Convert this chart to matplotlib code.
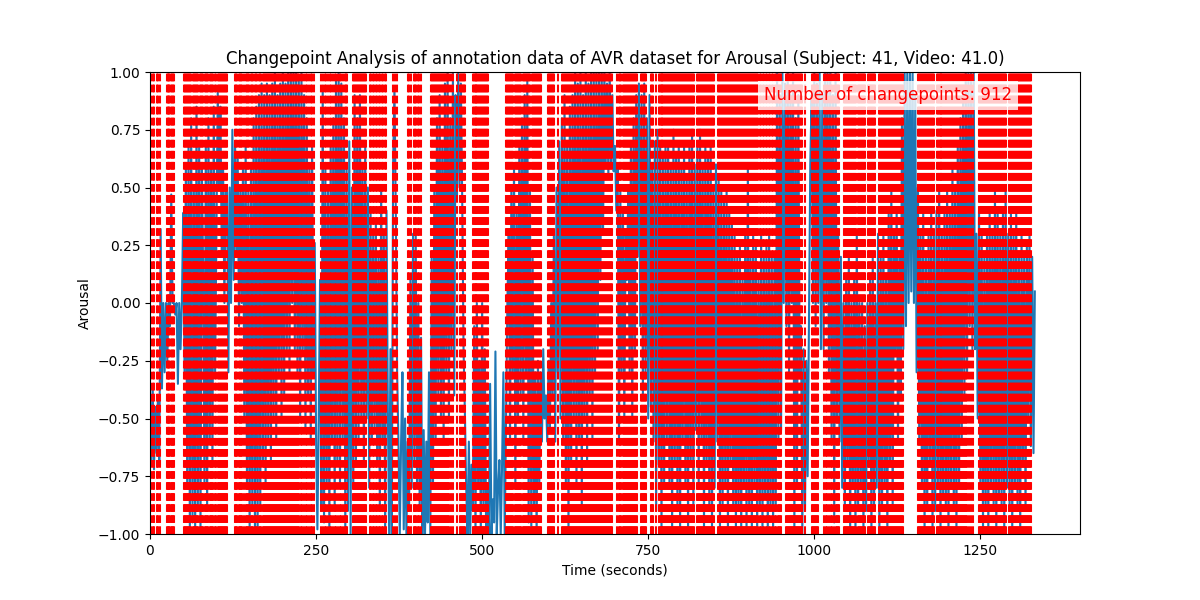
import numpy as np
import matplotlib
matplotlib.use("Agg")
import matplotlib.pyplot as plt

# ---- data ----
title = "Changepoint Analysis of annotation data of AVR dataset for Arousal (Subject: 41, Video: 41.0)"
x_label = "Time (seconds)"
y_label = "Arousal"
cp_label = "Number of changepoints: 912"

sample_period_s = 2.0  # arousal samples below are 2 s apart, starting at t = 0

arousal = [
    -0.4, -0.7, -0.35, -0.72, -0.45, -0.65, -0.4, -0.7, 0.32, -0.37,
    0.0, -0.3, 0.0, -0.25, 0.0, -0.1, 0.47, 0.0, 0.0, -0.05,
    0.0, -0.35, 0.0, -0.2, 0.0, 0.39, -0.3, 0.6, -0.8, 0.7,
    -1.0, 0.8, -0.95, 0.5, -1.0, 0.85, -0.9, 0.7, -1.0, 0.6,
    0.14, -0.8, 0.7, -0.9, 0.8, -0.6, 0.6, -0.7, 0.85, -0.3,
    0.3, 0.91, 0.5, 0.85, 0.2, 0.6, 0.0, 0.5, 0.48, -0.3,
    0.5, 0.0, 0.75, 0.1, 0.7, 0.2, 0.65, -0.1, 0.5, 0.0,
    0.6, -0.5, 0.7, -0.8, 0.5, -1.0, 0.6, -0.9, 0.8, -1.0,
    0.85, -1.0, 0.9, -0.9, 0.95, -0.7, 0.9, -0.8, 0.95, -0.6,
    0.9, -0.7, 0.95, -0.5, 1.0, -0.6, 0.9, -0.3, 0.95, -0.5,
    1.0, -0.4, 0.95, -0.2, 1.0, -0.3, 1.0, 0.0, 1.0, -0.2,
    1.0, -0.3, 0.98, -0.5, 1.0, -0.2, 0.9, -0.55, 0.8, -0.4,
    0.6, -0.6, 0.7, -0.3, 0.26, -0.58, -0.98, -0.5, 0.1, -0.9,
    0.94, -0.95, 0.6, -0.8, 0.5, -1.0, 0.7, -0.6, 0.8, -0.9,
    0.97, -0.7, 1.0, -0.8, 0.95, -0.6, 0.8, -1.0, 0.6, -0.9,
    0.7, -1.0, 0.5, -0.8, 0.9, -0.7, 0.8, -0.6, 0.9, -0.5,
    0.6, -0.7, 0.7, -0.5, 0.5, -0.8, 0.4, -0.6, 0.3, -0.55,
    0.35, -0.7, 0.2, -0.9, 0.5, -0.6, 0.3, -1.0, 0.4, -0.45,
    -1.0, -0.2, -1.0, 0.6, 0.93, 0.4, -0.3, -0.6, -1.0, -0.6,
    -0.3, -0.98, -0.5, -1.0, -0.6, -0.9, 0.1, -0.8, 0.3, -0.7,
    0.3, -0.8, 0.0, -0.9, -0.15, -1.0, -0.55, -1.0, -0.6, -0.95,
    -0.3, -1.0, 0.2, -0.8, 0.5, -0.6, 0.8, -0.4, 0.9, -0.5,
    0.7, -0.6, 0.95, -0.3, 1.0, -0.5, 0.8, -0.2, 1.0, -0.4,
    0.9, 0.45, 1.0, 0.5, 0.95, 0.45, -0.2, -0.47, -0.8, -1.0,
    -0.6, -1.0, -0.7, -0.9, -0.1, -1.0, 0.0, -0.8, -0.25, -1.0,
    0.0, -0.9, -0.2, -1.0, -0.8, -1.0, -0.35, -1.0, -0.85, -0.95,
    -0.21, -1.0, -0.8, -0.68, -1.0, -0.7, -0.3, -1.0, -0.5, 0.0,
    0.3, -0.6, 0.5, -0.3, 0.6, -0.8, 0.4, -0.5, 0.7, -0.4,
    0.8, -0.6, 0.9, -0.3, 0.96, -0.95, 0.5, -1.0, 0.2, -0.9,
    -0.3, -1.0, -0.25, -0.8, -0.3, -0.6, -0.2, -0.5, -0.4, -0.6,
    -0.25, -0.55, 0.0, -0.4, 0.3, -0.6, 0.5, -0.3, 0.7, -0.5,
    0.8, -0.6, 0.9, -0.8, 0.7, -1.0, 0.85, -0.7, 0.9, -0.5,
    1.0, -0.8, 0.95, -0.6, 1.0, -0.9, 0.9, -0.5, 1.0, -0.7,
    0.95, -0.4, 1.0, -0.6, 1.0, -0.3, 1.0, -0.2, 1.0, 0.1,
    1.0, 0.3, 1.0, 0.6, 0.95, 0.55, 1.0, 0.6, 0.9, 0.57,
    0.68, 0.4, 0.6, -0.59, 0.5, -0.3, 0.4, -0.5, 0.3, 0.1,
    0.5, -0.3, 0.7, -0.5, 0.8, -0.2, 0.9, 0.2, 0.95, -0.1,
    0.9, -0.4, 0.95, -0.3, 0.8, -0.5, 0.9, -0.45, 0.6, -0.6,
    0.7, -0.9, 0.75, -0.7, 0.7, -1.0, 0.65, -0.8, 0.7, -0.6,
    0.7, -0.8, 0.6, -1.0, 0.75, -0.7, 0.65, -0.9, 0.7, -1.0,
    0.6, -0.6, 0.7, -0.8, 0.55, -1.0, 0.7, -0.7, 0.75, -0.9,
    0.6, -0.55, 0.7, -0.8, 0.75, -0.6, 0.6, -1.0, 0.7, -0.7,
    0.65, -0.9, 0.7, -1.0, 0.5, -0.8, 0.6, -0.6, 0.55, -1.0,
    0.5, -0.9, 0.45, -0.8, 0.5, -1.0, 0.4, -0.7, 0.35, -0.9,
    0.3, -1.0, 0.2, -0.9, 0.25, -1.0, 0.1, -0.8, 0.3, -1.0,
    0.6, -0.9, 0.2, -1.0, 0.3, -0.8, 0.25, -1.0, 0.1, -0.9,
    0.3, -1.0, 0.2, -0.85, 0.25, -1.0, 0.3, -0.9, 0.2, -1.0,
    0.2, -0.9, 1.0, -0.6, 0.9, -0.55, 1.0, 0.0, 0.95, -0.1,
    1.0, -0.3, 0.9, 0.0, 1.0, -1.0, 0.8, -0.8, 0.9, -0.3,
    -0.1, -1.0, -0.2, -0.9, -0.25, -0.75, -0.1, 0.6, 0.9, 0.0,
    1.0, -0.1, 0.95, 0.0, 1.0, -0.2, 0.9, -0.2, 1.0, 0.0,
    1.0, -0.3, 1.0, -0.6, 0.9, -0.95, 1.0, -0.5, 0.3, -0.6,
    0.2, -0.8, 0.0, -0.9, 0.1, -0.7, 0.2, -1.0, 0.0, -0.8,
    0.1, -1.0, 0.3, -0.9, 0.0, -0.8, 0.0, -1.0, -0.1, -0.9,
    0.0, -0.7, 0.1, -1.0, 0.2, -0.9, 0.0, -0.8, 0.3, -1.0,
    0.2, -0.9, 0.3, -0.8, 0.1, -1.0, 0.4, -0.7, 0.5, -0.9,
    0.3, -0.2, 0.4, -0.6, 0.2, -0.4, 0.8, -0.2, 1.0, -0.1,
    1.0, 0.0, 1.0, 0.05, 1.0, 0.0, 0.9, -0.3, 0.5, -0.6,
    0.3, -0.8, 0.4, -1.0, 0.2, -0.9, 0.3, -0.7, 0.4, -1.0,
    0.3, -0.9, 0.4, -0.8, 0.5, -1.0, 0.3, -0.85, 0.4, -0.9,
    0.5, -1.0, 0.4, -0.8, 0.6, -0.9, 0.5, -1.0, 0.7, -0.8,
    0.8, -0.6, 0.9, -0.4, 1.0, -0.3, 1.0, -0.1, 1.0, -0.2,
    1.0, -0.2, 0.3, -0.5, 0.4, -0.8, 0.3, -1.0, 0.2, -0.9,
    0.3, -1.0, 0.4, -0.8, 0.3, -0.9, 0.5, -1.0, 0.4, -0.85,
    0.3, -0.9, 0.4, -1.0, 0.5, -0.8, 0.3, -0.9, 0.4, -1.0,
    0.3, -0.8, 0.4, -0.9, 0.2, -1.0, 0.3, -0.7, 0.2, -0.9,
    0.25, -0.5, 0.3, -0.62, 0.2, -0.65, 0.05,
]

changepoints = [
    1.5, 4.0, 6.5, 10.0, 12.0, 15.5,
    25.0, 26.5, 28.0, 29.0, 31.5, 33.0, 34.5, 36.0,
    51.0, 52.5, 54.0, 55.5, 57.0, 58.5, 60.0, 61.5, 64.5, 66.0, 67.5, 69.0, 70.5, 72.0,
    76.0, 77.5, 79.0, 80.5, 83.5, 85.0, 86.5, 88.0, 91.0, 92.5, 94.0, 95.5, 98.5, 100.0,
    102.5, 104.0, 105.5, 107.0, 108.5, 110.0, 111.5, 113.0, 114.5, 116.0,
    128.5, 130.0, 131.5, 134.5, 136.0, 137.5, 139.0, 141.0,
    144.0, 145.5, 147.0, 148.5, 151.5, 153.0, 154.5, 157.5, 159.0, 160.5, 163.5, 165.0, 166.5, 169.5,
    171.5, 173.0, 174.5, 176.0, 177.5, 179.0, 180.5, 182.0, 183.5, 185.0, 186.5, 188.0, 189.5,
    191.0, 192.5, 194.0, 195.5, 197.0, 198.5, 200.0, 201.5, 203.0, 204.5, 206.0, 207.5,
    209.0, 210.5, 212.0, 213.5, 215.0, 216.5, 218.0, 219.5, 221.0, 222.5,
    224.5, 227.5, 229.0, 232.0, 235.0, 236.5, 239.5, 242.5, 244.0, 246.5,
    257.5, 260.5, 263.5, 265.0, 268.0, 271.0, 272.5, 275.5, 278.5, 280.0, 283.0, 286.0,
    287.5, 290.5, 293.5, 295.0, 297.0,
    305.5, 307.0, 308.5, 310.0, 311.5, 313.0, 314.5, 316.0, 317.5, 319.0, 320.5, 322.0, 323.5, 325.0,
    330.5, 332.0, 335.0, 336.5, 339.5, 341.0, 344.0, 345.5, 348.5, 350.0,
    353.5, 356.0, 366.0, 369.5, 372.0,
    388.5, 390.5, 392.5, 397.0, 399.0, 401.0, 403.0, 405.5, 407.5,
    423.5, 425.0, 426.5, 428.0, 429.5, 431.0, 432.5, 434.0, 435.5, 437.0, 438.5, 440.0, 441.5,
    443.0, 444.5, 446.0,
    447.5, 449.0, 450.5, 453.0, 456.0, 461.5, 467.0, 468.5, 470.0, 471.5, 473.0, 474.5,
    485.5, 487.0, 488.5, 490.0, 491.5, 493.0, 494.5, 496.0, 497.5, 499.0, 500.5, 502.0, 503.5,
    505.0, 506.5, 508.0, 509.5,
    535.5, 537.0, 538.5, 540.0, 541.5, 543.0, 544.5, 546.0, 549.0, 550.5, 552.0, 553.5, 555.0,
    556.5, 558.0, 561.0, 562.5, 564.0, 565.5, 567.0, 568.5, 570.0, 571.5, 574.5, 576.0, 577.5,
    579.0, 580.5, 582.0, 583.5, 585.0, 586.5, 588.0,
    598.5, 600.0, 601.5, 603.0, 604.5, 606.0, 607.5, 614.0,
    620.0, 621.5, 623.0, 624.5, 626.0, 627.5, 629.0, 630.5, 632.0, 633.5, 635.0, 636.5, 638.0,
    639.5, 641.0, 642.5, 644.0, 645.5, 647.0, 648.5, 650.0, 651.5, 653.0, 654.5, 656.0, 657.5,
    659.0, 660.5, 662.0, 663.5, 665.0, 666.5, 668.0, 669.5, 671.0, 672.5, 674.0, 675.5, 677.0,
    678.5, 680.0, 681.5, 683.0, 684.5, 686.0, 687.5, 689.0, 690.5, 692.0, 693.5, 695.0,
    703.5, 705.5, 707.5, 709.5, 711.5, 713.5,
    715.5, 717.0, 718.5, 720.0, 721.5, 723.0, 724.5, 726.0, 727.5, 729.0, 730.5, 732.0, 733.5,
    739.5, 741.0, 742.5, 744.0, 745.5, 747.0, 754.0, 755.5, 757.0, 761.5,
    765.5, 767.0, 768.5, 770.0, 771.5, 773.0, 774.5, 776.0, 777.5, 779.0, 780.5, 782.0, 783.5,
    785.0, 786.5, 788.0, 789.5, 791.0, 792.5, 794.0, 795.5, 797.0, 798.5, 800.0, 801.5, 803.0,
    804.5, 806.0, 807.5, 809.0, 810.5, 812.0, 813.5, 815.0, 816.5, 818.0, 819.5,
    824.0, 825.5, 827.0, 828.5, 830.0, 831.5, 833.0, 834.5, 836.0, 837.5, 839.0, 840.5, 842.0,
    843.5, 845.0, 846.5, 848.0, 849.5,
    855.5, 857.0, 858.5, 860.0, 861.5, 863.0, 864.5, 866.0, 867.5, 869.0, 870.5, 872.0, 873.5,
    875.0, 876.5, 878.0, 879.5, 881.0, 882.5, 884.0, 885.5, 887.0, 888.5, 890.0, 891.5, 893.0,
    894.5, 896.0, 897.5, 899.0, 900.5, 902.0, 903.5, 905.0, 906.5, 908.0, 909.5, 911.0, 912.5,
    914.5, 916.0, 919.0, 920.5, 923.5, 925.0, 928.0, 929.5, 932.5, 934.0, 937.0, 938.5, 941.5,
    943.0, 946.0, 947.5,
    949.0, 950.5, 957.0, 958.5, 960.0, 961.5, 963.0, 964.5, 966.0, 967.5, 969.0, 970.5, 972.0,
    973.5, 975.0, 976.5, 978.0, 979.5, 981.0, 986.5,
    996.5, 998.0, 999.5, 1001.0, 1002.5, 1004.0, 1005.5,
    1014.0, 1017.0, 1019.0, 1022.0, 1025.0, 1027.0, 1030.0, 1032.5,
    1034.5, 1036.0, 1037.5, 1044.5, 1046.0, 1047.5, 1049.0, 1050.5, 1052.0, 1053.5, 1055.0,
    1056.5, 1058.0, 1059.5, 1061.0, 1062.5, 1065.5, 1067.0, 1068.5, 1070.0, 1071.5, 1073.0,
    1074.5, 1076.0, 1081.0, 1082.0, 1083.5, 1085.0, 1086.5, 1088.0, 1089.5, 1091.0,
    1097.5, 1099.0, 1100.5, 1102.0, 1103.5, 1105.0, 1106.5, 1108.0, 1109.5, 1111.0, 1112.5, 1114.0,
    1115.5, 1117.0, 1118.5, 1120.0, 1121.5, 1123.0, 1124.5, 1126.0, 1127.5, 1129.0, 1130.5,
    1132.0, 1133.5,
    1155.5, 1157.0, 1158.5, 1160.0, 1161.5, 1163.0, 1164.5, 1166.0, 1167.5, 1169.0, 1170.5,
    1172.0, 1173.5, 1175.0, 1176.5, 1178.0, 1179.5,
    1184.0, 1185.5, 1187.0, 1188.5, 1190.0, 1191.5, 1193.0, 1194.5, 1196.0, 1197.5, 1199.0,
    1200.5, 1202.0, 1203.5, 1205.0, 1206.5, 1208.0, 1209.5, 1211.0, 1212.5, 1214.0, 1215.5,
    1217.0, 1218.5, 1220.0, 1221.5, 1223.0, 1224.5, 1226.0, 1227.5, 1229.0, 1230.5,
    1233.0, 1236.0, 1238.5,
    1247.5, 1249.0, 1250.5, 1252.0, 1253.5, 1255.0, 1256.5, 1258.0, 1259.5, 1261.0, 1262.5,
    1264.0, 1265.5, 1267.0, 1268.5, 1270.0, 1271.5, 1273.0, 1274.5, 1276.0, 1277.5, 1279.0,
    1280.5, 1282.0, 1283.5, 1285.0, 1286.5, 1288.0,
    1292.5, 1294.0, 1295.5, 1297.0, 1298.5, 1300.0, 1301.5, 1303.0, 1304.5, 1306.0, 1307.5,
    1309.0, 1310.5, 1312.0, 1313.5, 1315.0, 1316.5, 1318.0, 1319.5, 1321.0, 1322.5, 1324.0,
    1325.5,
]

x_ticks = [0, 250, 500, 750, 1000, 1250]
y_ticks = [-1.00, -0.75, -0.50, -0.25, 0.00, 0.25, 0.50, 0.75, 1.00]

# ---- figure ----
time_s = np.arange(len(arousal)) * sample_period_s

fig, ax = plt.subplots(figsize=(12, 6), dpi=100)
ax.plot(time_s, arousal, color="C0", linewidth=1.5)
for cp in changepoints:
    ax.axvline(x=cp, color="red", linestyle="--", linewidth=1.5)

ax.set_xlim(0, 1400)
ax.set_ylim(-1, 1)
ax.set_xticks(x_ticks)
ax.set_yticks(y_ticks)
ax.set_title(title)
ax.set_xlabel(x_label)
ax.set_ylabel(y_label)
ax.text(0.927, 0.969, cp_label, transform=ax.transAxes, ha="right", va="top",
        fontsize=12, color="red",
        bbox=dict(facecolor="white", alpha=0.8, edgecolor="none"))

fig.savefig("out.png", dpi=100)
